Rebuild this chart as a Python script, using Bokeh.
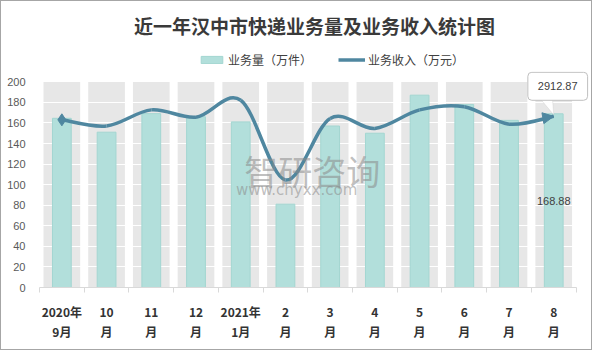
from bokeh.plotting import figure
from bokeh.layouts import column
from bokeh.models import (Range1d, FixedTicker, Legend, LegendItem, Label, Arrow,
                          NormalHead, PolyAnnotation)
from bokeh.core.properties import value
from bokeh.embed import file_html
from bokeh.resources import INLINE

# ---------------- data ----------------
months = ["2020年\n9月", "10\n月", "11\n月", "12\n月", "2021年\n1月", "2\n月",
          "3\n月", "4\n月", "5\n月", "6\n月", "7\n月", "8\n月"]
volume = [164.5, 151, 169, 166, 161, 81, 157, 150, 187, 178, 162.5, 168.88]   # 万件
revenue = [2853, 2748, 3022, 2898, 3185, 1829, 2877, 2707, 3022, 3077, 2779, 2912.87]  # 万元
y_ticks = [0, 20, 40, 60, 80, 100, 120, 140, 160, 180, 200]
y_max = 200          # top of the value axis
rev_max = 3500       # hidden secondary axis maximum (aligned with y_max)

title_text = "近一年汉中市快递业务量及业务收入统计图"
legend_vol = "业务量（万件）"
legend_rev = "业务收入（万元）"

CJK = "Noto Sans CJK SC"
BAR = "#b2dfdb"
BAR_LINE = "#a3d6d1"
LINE = "#4f87a0"
BAND = "#e7e7e7"
W, HEAD_H, MAIN_H = 590, 68, 280
Y_TOP = 210          # frame extends a little above 200 so the callout fits
X_RIGHT = 12.3

n = len(months)
xs = [i + 0.5 for i in range(n)]

# ---------------- header: title + legend ----------------
head = figure(width=W, height=HEAD_H, output_backend="svg", toolbar_location=None,
              x_range=Range1d(0, W), y_range=Range1d(0, HEAD_H), min_border=0)
head.axis.visible = False
head.grid.visible = False
head.outline_line_color = None
head.border_fill_color = "white"
head.add_layout(Label(x=W / 2, y=HEAD_H - 24, text=title_text, text_align="center",
                      text_baseline="middle", text_font=CJK, text_font_size="19px",
                      text_font_style="bold", text_color="#3a3a3a"))
sw_bar = head.vbar(x=[float("nan")], top=[float("nan")], width=1, fill_color=BAR,
                   line_color=BAR_LINE)
sw_line = head.line(x=[float("nan")], y=[float("nan")], line_color=LINE, line_width=3.5)
legend = Legend(items=[LegendItem(label=legend_vol, renderers=[sw_bar]),
                       LegendItem(label=legend_rev, renderers=[sw_line])],
                orientation="horizontal", location=(159, 1),
                glyph_width=27, glyph_height=9, spacing=26, label_standoff=3,
                label_text_font=CJK, label_text_font_size="12px", label_text_color="#404040",
                background_fill_alpha=0, border_line_color=None, padding=2, margin=0)
head.add_layout(legend)

# ---------------- main chart ----------------
p = figure(width=W, height=MAIN_H, output_backend="svg", toolbar_location=None,
           x_range=Range1d(0, X_RIGHT), y_range=Range1d(0, Y_TOP),
           min_border_left=38, min_border_right=2, min_border_bottom=62,
           min_border_top=2)
p.extra_y_ranges = {"rev": Range1d(0, rev_max * Y_TOP / y_max)}
p.outline_line_color = None
p.background_fill_color = "white"
p.border_fill_color = "white"

# background bands (under the grid)
p.vbar(x=xs, top=[y_max] * n, width=0.82, fill_color=BAND, line_color=None, level="image")

# grid
p.xgrid.grid_line_color = None
p.ygrid.ticker = FixedTicker(ticks=y_ticks)
p.ygrid.grid_line_color = "white"
p.ygrid.grid_line_width = 1.2

# bars
bars = p.vbar(x=xs, top=volume, width=0.42, fill_color=BAR, line_color=BAR_LINE, line_width=1)

# smoothed revenue line (Catmull-Rom style Bezier through the data points)
P = list(zip(xs, revenue))
def pt(i):
    return P[min(max(i, 0), n - 1)]
x0, y0, x1, y1, cx0, cy0, cx1, cy1 = [], [], [], [], [], [], [], []
for i in range(n - 1):
    a, b, c, d = pt(i - 1), pt(i), pt(i + 1), pt(i + 2)
    x0.append(b[0]); y0.append(b[1]); x1.append(c[0]); y1.append(c[1])
    cx0.append(b[0] + (c[0] - a[0]) / 6); cy0.append(b[1] + (c[1] - a[1]) / 6)
    cx1.append(c[0] - (d[0] - b[0]) / 6); cy1.append(c[1] - (d[1] - b[1]) / 6)
p.bezier(x0=x0, y0=y0, x1=x1, y1=y1, cx0=cx0, cy0=cy0, cx1=cx1, cy1=cy1,
         line_color=LINE, line_width=3.5, y_range_name="rev")
p.scatter(x=[xs[0]], y=[revenue[0]], marker="diamond", size=12, fill_color=LINE,
          line_color=LINE, y_range_name="rev")
p.add_layout(Arrow(end=NormalHead(size=11, fill_color=LINE, line_color=LINE),
                   x_start=cx1[-1], y_start=cy1[-1], x_end=xs[-1], y_end=revenue[-1],
                   line_alpha=0, y_range_name="rev"))

# watermark
p.text(x=[6.1], y=[114], text=["智研咨询"], text_font=value(CJK), text_font_size="34px",
       text_color="#8a8a8a", text_alpha=0.55, text_align="center", text_baseline="middle")
p.text(x=[5.75], y=[95], text=["www.chyxx.com"], text_font=value("DejaVu Sans"),
       text_font_size="15px", text_color="#8a8a8a", text_alpha=0.55,
       text_align="center", text_baseline="middle")

# data labels
p.text(x=[xs[-1]], y=[volume[-1] / 2], text=["%.2f" % volume[-1]], text_font=value("Liberation Sans"),
       text_font_size="11px", text_color="#404040", text_align="center", text_baseline="middle")

# callout for the last revenue value (pointer drawn in value-axis units)
last_y = revenue[-1] * y_max / rev_max
tail = PolyAnnotation(xs=[xs[-1] - 0.32, xs[-1] - 0.03, xs[-1]],
                      ys=[last_y + 18, last_y + 18, last_y + 1.5],
                      fill_color="white", fill_alpha=1, line_color="#bfbfbf", line_width=1)
p.add_layout(tail)
p.add_layout(Label(x=xs[-1], y=revenue[-1], text="%.2f" % revenue[-1], x_offset=4, y_offset=30,
                   y_range_name="rev", text_align="center", text_baseline="middle",
                   text_font="Liberation Sans", text_font_size="11px", text_color="#404040",
                   background_fill_color="white", border_line_color="#bfbfbf",
                   padding=10, border_radius=4))

# axes
p.yaxis.ticker = FixedTicker(ticks=y_ticks)
p.yaxis.axis_line_color = None
p.yaxis.major_tick_line_color = None
p.yaxis.minor_tick_line_color = None
p.yaxis.major_label_text_font = "Liberation Sans"
p.yaxis.major_label_text_font_size = "11px"
p.yaxis.major_label_text_color = "#595959"
p.yaxis.major_label_standoff = 8

p.xaxis.ticker = FixedTicker(ticks=xs, minor_ticks=list(range(n + 1)))
p.xaxis.bounds = (0, n)
p.xaxis.major_label_overrides = {x: m for x, m in zip(xs, months)}
p.xaxis.axis_line_color = "#d9d9d9"
p.xaxis.major_tick_line_color = None
p.xaxis.minor_tick_line_color = "#d9d9d9"
p.xaxis.minor_tick_in = 0
p.xaxis.minor_tick_out = 5
p.xaxis.major_label_text_font = CJK
p.xaxis.major_label_text_font_size = "12px"
p.xaxis.major_label_text_font_style = "bold"
p.xaxis.major_label_text_color = "#333333"
p.xaxis.major_label_standoff = 9

layout = column(head, p, spacing=0, styles={"border": "1px solid #a6a6a6"})
open("out.html", "w").write(file_html(layout, INLINE))
